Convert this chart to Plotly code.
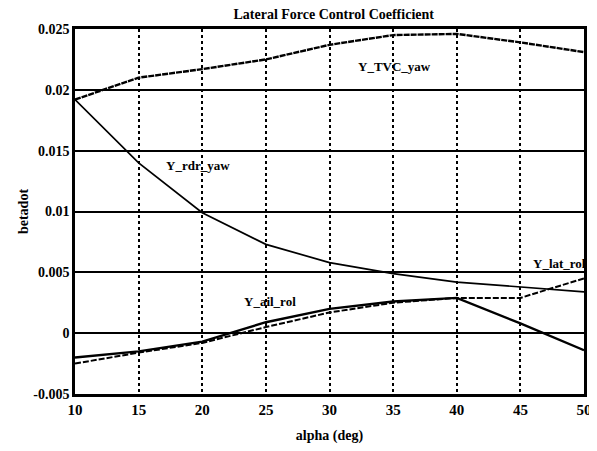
import plotly.graph_objects as go

alpha = [10, 15, 20, 25, 30, 35, 40, 45, 50]
y_tvc_yaw = [0.0192, 0.0210, 0.0217, 0.0225, 0.0237, 0.0245, 0.0246, 0.0239, 0.0231]
y_rdr_yaw = [0.0192, 0.0140, 0.0099, 0.0073, 0.0058, 0.0049, 0.0042, 0.0038, 0.0034]
y_ail_rol = [-0.0020, -0.0015, -0.0007, 0.0009, 0.0020, 0.0026, 0.0029, 0.0008, -0.0014]
y_lat_rol = [-0.0025, -0.0016, -0.0008, 0.0005, 0.0017, 0.0025, 0.0029, 0.0029, 0.0045]

x_ticks = [10, 15, 20, 25, 30, 35, 40, 45, 50]
y_ticks = [-0.005, 0, 0.005, 0.01, 0.015, 0.02, 0.025]
y_tick_text = ["-0.005", "0", "0.005", "0.01", "0.015", "0.02", "0.025"]

labels = ["Y_TVC_yaw", "Y_rdr_yaw", "Y_ail_rol", "Y_lat_rol"]
label_x = [35.1, 19.7, 25.3, 48.1]
label_y = [0.0219, 0.0138, 0.0026, 0.0057]

font_fam = "Liberation Serif"

fig = go.Figure()
fig.add_trace(go.Scatter(x=alpha, y=y_tvc_yaw, mode="lines", name="Y_TVC_yaw",
                         line=dict(color="black", width=2.4, dash="6px,1px")))
fig.add_trace(go.Scatter(x=alpha, y=y_rdr_yaw, mode="lines", name="Y_rdr_yaw",
                         line=dict(color="black", width=1.7)))
fig.add_trace(go.Scatter(x=alpha, y=y_ail_rol, mode="lines", name="Y_ail_rol",
                         line=dict(color="black", width=2.4)))
fig.add_trace(go.Scatter(x=alpha, y=y_lat_rol, mode="lines", name="Y_lat_rol",
                         line=dict(color="black", width=2, dash="6px,2px")))

for t, lx, ly in zip(labels, label_x, label_y):
    fig.add_annotation(x=lx, y=ly, text="<b>" + t + "</b>", showarrow=False,
                       font=dict(family=font_fam, size=13, color="black"))

fig.update_layout(
    width=589, height=443,
    margin=dict(l=67, r=13, t=21, b=57, autoexpand=False),
    paper_bgcolor="white", plot_bgcolor="white",
    showlegend=False,
    title=dict(text="<b>Lateral Force Control Coefficient</b>", x=0.553, xanchor="center",
               y=0.997, yanchor="top",
               font=dict(family=font_fam, size=14, color="black")),
    font=dict(family=font_fam, color="black"),
)
fig.update_xaxes(range=[10, 50], tickvals=x_ticks, ticktext=["<b>%d</b>" % v for v in x_ticks],
                 ticks="", showline=True, mirror=True, automargin=False,
                 linecolor="black", linewidth=2.5, showgrid=True, gridcolor="black",
                 griddash="dot", gridwidth=1.8, zeroline=False,
                 tickfont=dict(family=font_fam, size=15, color="black"),
                 title=dict(text="<b>alpha (deg)</b>", standoff=14,
                            font=dict(family=font_fam, size=14, color="black")))
fig.update_yaxes(range=[-0.005, 0.025], tickvals=y_ticks, ticktext=["<b>" + s + "</b>" for s in y_tick_text],
                 ticks="", showline=True, mirror=True, automargin=False,
                 linecolor="black", linewidth=2.5, showgrid=True, gridcolor="black",
                 gridwidth=1.6, zeroline=False,
                 tickfont=dict(family=font_fam, size=14, color="black"),
                 title=dict(text="<b>betadot</b>", standoff=2,
                            font=dict(family=font_fam, size=14, color="black")))

fig.write_html("out.html")
